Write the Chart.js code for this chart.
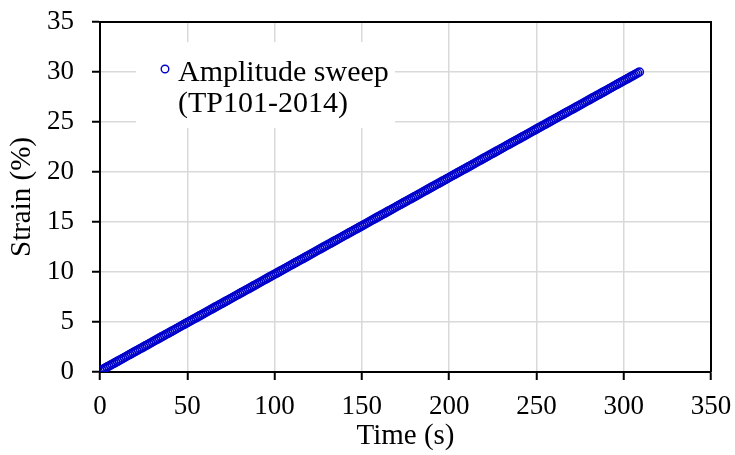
<!DOCTYPE html>
<html>
<head>
<meta charset="utf-8">
<script src="https://cdn.jsdelivr.net/npm/chart.js@4.4.1/dist/chart.umd.min.js"></script>
<style>
  html, body { margin: 0; padding: 0; background: #fff; }
  #wrap { width: 735px; height: 455px; }
</style>
</head>
<body>
<div id="wrap"><canvas id="strainChart" width="735" height="455"></canvas></div>
<script>
// time (s) of each sample
const timeSec = [
  0, 1, 2, 3, 4, 5, 6, 7, 8, 9,
  10, 11, 12, 13, 14, 15, 16, 17, 18, 19,
  20, 21, 22, 23, 24, 25, 26, 27, 28, 29,
  30, 31, 32, 33, 34, 35, 36, 37, 38, 39,
  40, 41, 42, 43, 44, 45, 46, 47, 48, 49,
  50, 51, 52, 53, 54, 55, 56, 57, 58, 59,
  60, 61, 62, 63, 64, 65, 66, 67, 68, 69,
  70, 71, 72, 73, 74, 75, 76, 77, 78, 79,
  80, 81, 82, 83, 84, 85, 86, 87, 88, 89,
  90, 91, 92, 93, 94, 95, 96, 97, 98, 99,
  100, 101, 102, 103, 104, 105, 106, 107, 108, 109,
  110, 111, 112, 113, 114, 115, 116, 117, 118, 119,
  120, 121, 122, 123, 124, 125, 126, 127, 128, 129,
  130, 131, 132, 133, 134, 135, 136, 137, 138, 139,
  140, 141, 142, 143, 144, 145, 146, 147, 148, 149,
  150, 151, 152, 153, 154, 155, 156, 157, 158, 159,
  160, 161, 162, 163, 164, 165, 166, 167, 168, 169,
  170, 171, 172, 173, 174, 175, 176, 177, 178, 179,
  180, 181, 182, 183, 184, 185, 186, 187, 188, 189,
  190, 191, 192, 193, 194, 195, 196, 197, 198, 199,
  200, 201, 202, 203, 204, 205, 206, 207, 208, 209,
  210, 211, 212, 213, 214, 215, 216, 217, 218, 219,
  220, 221, 222, 223, 224, 225, 226, 227, 228, 229,
  230, 231, 232, 233, 234, 235, 236, 237, 238, 239,
  240, 241, 242, 243, 244, 245, 246, 247, 248, 249,
  250, 251, 252, 253, 254, 255, 256, 257, 258, 259,
  260, 261, 262, 263, 264, 265, 266, 267, 268, 269,
  270, 271, 272, 273, 274, 275, 276, 277, 278, 279,
  280, 281, 282, 283, 284, 285, 286, 287, 288, 289,
  290, 291, 292, 293, 294, 295, 296, 297, 298, 299,
  300, 301, 302, 303, 304, 305, 306, 307, 308, 309
];

// strain (%)
const strainPct = [
  0.10, 0.20, 0.29, 0.39, 0.49, 0.58, 0.68, 0.78, 0.87, 0.97,
  1.07, 1.16, 1.26, 1.36, 1.45, 1.55, 1.65, 1.74, 1.84, 1.94,
  2.04, 2.13, 2.23, 2.33, 2.42, 2.52, 2.62, 2.71, 2.81, 2.91,
  3.00, 3.10, 3.20, 3.29, 3.39, 3.49, 3.58, 3.68, 3.78, 3.87,
  3.97, 4.07, 4.16, 4.26, 4.36, 4.45, 4.55, 4.65, 4.74, 4.84,
  4.94, 5.03, 5.13, 5.23, 5.33, 5.42, 5.52, 5.62, 5.71, 5.81,
  5.91, 6.00, 6.10, 6.20, 6.29, 6.39, 6.49, 6.58, 6.68, 6.78,
  6.87, 6.97, 7.07, 7.16, 7.26, 7.36, 7.45, 7.55, 7.65, 7.74,
  7.84, 7.94, 8.03, 8.13, 8.23, 8.32, 8.42, 8.52, 8.62, 8.71,
  8.81, 8.91, 9.00, 9.10, 9.20, 9.29, 9.39, 9.49, 9.58, 9.68,
  9.78, 9.87, 9.97, 10.07, 10.16, 10.26, 10.36, 10.45, 10.55, 10.65,
  10.74, 10.84, 10.94, 11.03, 11.13, 11.23, 11.32, 11.42, 11.52, 11.61,
  11.71, 11.81, 11.91, 12.00, 12.10, 12.20, 12.29, 12.39, 12.49, 12.58,
  12.68, 12.78, 12.87, 12.97, 13.07, 13.16, 13.26, 13.36, 13.45, 13.55,
  13.65, 13.74, 13.84, 13.94, 14.03, 14.13, 14.23, 14.32, 14.42, 14.52,
  14.61, 14.71, 14.81, 14.90, 15.00, 15.10, 15.20, 15.29, 15.39, 15.49,
  15.58, 15.68, 15.78, 15.87, 15.97, 16.07, 16.16, 16.26, 16.36, 16.45,
  16.55, 16.65, 16.74, 16.84, 16.94, 17.03, 17.13, 17.23, 17.32, 17.42,
  17.52, 17.61, 17.71, 17.81, 17.90, 18.00, 18.10, 18.19, 18.29, 18.39,
  18.49, 18.58, 18.68, 18.78, 18.87, 18.97, 19.07, 19.16, 19.26, 19.36,
  19.45, 19.55, 19.65, 19.74, 19.84, 19.94, 20.03, 20.13, 20.23, 20.32,
  20.42, 20.52, 20.61, 20.71, 20.81, 20.90, 21.00, 21.10, 21.19, 21.29,
  21.39, 21.48, 21.58, 21.68, 21.78, 21.87, 21.97, 22.07, 22.16, 22.26,
  22.36, 22.45, 22.55, 22.65, 22.74, 22.84, 22.94, 23.03, 23.13, 23.23,
  23.32, 23.42, 23.52, 23.61, 23.71, 23.81, 23.90, 24.00, 24.10, 24.19,
  24.29, 24.39, 24.48, 24.58, 24.68, 24.77, 24.87, 24.97, 25.07, 25.16,
  25.26, 25.36, 25.45, 25.55, 25.65, 25.74, 25.84, 25.94, 26.03, 26.13,
  26.23, 26.32, 26.42, 26.52, 26.61, 26.71, 26.81, 26.90, 27.00, 27.10,
  27.19, 27.29, 27.39, 27.48, 27.58, 27.68, 27.77, 27.87, 27.97, 28.06,
  28.16, 28.26, 28.36, 28.45, 28.55, 28.65, 28.74, 28.84, 28.94, 29.03,
  29.13, 29.23, 29.32, 29.42, 29.52, 29.61, 29.71, 29.81, 29.90, 30.00
];

const legendLines = ["Amplitude sweep", "(TP101-2014)"];
const xTitle = "Time (s)";
const yTitle = "Strain (%)";

const serif = "'Liberation Serif', 'Times New Roman', serif";
const blue = "#0000cc";

const points = timeSec.map((t, i) => ({ x: t, y: strainPct[i] }));

// box on top + right, and the legend with its white patch
const framePlugin = {
  id: "frame",
  beforeDatasetsDraw(chart) {
    const { ctx, chartArea } = chart;
    ctx.save();
    ctx.strokeStyle = "#000";
    ctx.lineWidth = 2;
    ctx.beginPath();
    ctx.moveTo(chartArea.left, chartArea.top);
    ctx.lineTo(chartArea.right, chartArea.top);
    ctx.lineTo(chartArea.right, chartArea.bottom);
    ctx.stroke();

    // legend
    const bx = chartArea.left + 36;
    const by = chartArea.top + 20;
    ctx.fillStyle = "#fff";
    ctx.fillRect(bx, by, 259, 86);

    ctx.strokeStyle = blue;
    ctx.lineWidth = 1.4;
    ctx.beginPath();
    ctx.arc(bx + 29, by + 27, 3.8, 0, Math.PI * 2);
    ctx.stroke();

    ctx.fillStyle = "#000";
    ctx.font = "30px " + serif;
    ctx.textBaseline = "alphabetic";
    ctx.textAlign = "left";
    ctx.fillText(legendLines[0], bx + 42, by + 38.5);
    ctx.fillText(legendLines[1], bx + 42, by + 69.5);
    ctx.restore();
  },
};

const ctx = document.getElementById("strainChart").getContext("2d");

let strainChart = new Chart(ctx, {
  type: "scatter",
  data: {
    datasets: [
      {
        label: legendLines.join(" "),
        data: points,
        borderColor: blue,
        backgroundColor: "rgba(255,255,255,0)",
        pointRadius: 4,
        pointBorderWidth: 1.5,
        pointHoverRadius: 4,
      },
    ],
  },
  options: {
    responsive: false,
    animation: false,
    devicePixelRatio: 1,
    layout: {
      padding: { top: 22, right: 24, left: 0, bottom: 0 },
    },
    scales: {
      x: {
        type: "linear",
        min: 0,
        max: 350,
        afterFit: (scale) => {
          scale.height = 83;
          scale.paddingLeft = 0;
          scale.paddingRight = 0;
        },
        ticks: {
          stepSize: 50,
          color: "#000",
          padding: 11,
          maxRotation: 0,
          font: { family: serif, size: 27 },
        },
        grid: {
          color: "#d9d9d9",
          lineWidth: 1.5,
          tickColor: "#000",
          tickWidth: 2,
          tickLength: 8,
        },
        border: { display: true, color: "#000", width: 2 },
        title: {
          display: true,
          text: xTitle,
          color: "#000",
          padding: { top: 0, bottom: 1 },
          font: { family: serif, size: 29 },
        },
      },
      y: {
        min: 0,
        max: 35,
        afterFit: (scale) => {
          scale.width = 100;
          scale.paddingTop = 0;
          scale.paddingBottom = 0;
        },
        ticks: {
          stepSize: 5,
          color: "#000",
          padding: 18,
          font: { family: serif, size: 27 },
        },
        grid: {
          color: "#d9d9d9",
          lineWidth: 1.5,
          tickColor: "#000",
          tickWidth: 2,
          tickLength: 8,
        },
        border: { display: true, color: "#000", width: 2 },
        title: {
          display: true,
          text: yTitle,
          color: "#000",
          padding: { top: 5, bottom: 0 },
          font: { family: serif, size: 29 },
        },
      },
    },
    plugins: {
      legend: { display: false },
      tooltip: { enabled: false },
    },
  },
  plugins: [framePlugin],
});
</script>
</body>
</html>
